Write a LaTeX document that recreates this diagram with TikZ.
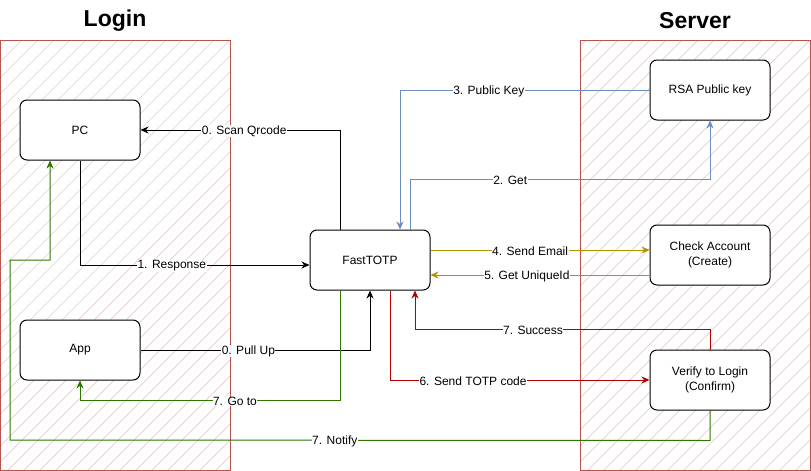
\documentclass[tikz,border=0pt]{standalone}
\usepackage{fontspec}
\setmainfont{Liberation Sans}
\usetikzlibrary{arrows.meta}
\definecolor{cborder}{HTML}{B85450}
\definecolor{hatchpink}{RGB}{250,196,194}
\definecolor{cgreen}{HTML}{2D7600}
\definecolor{cblue}{HTML}{6C8EBF}
\definecolor{colive}{HTML}{B09500}
\definecolor{cred}{HTML}{B20000}
\begin{document}
\begin{tikzpicture}[x=1pt,y=-1pt,
 box/.style={draw,fill=white,line width=1pt,rounded corners=7pt,minimum width=120pt,minimum height=60pt,align=center,font=\fontsize{12}{15}\selectfont,inner sep=0pt},
 conn/.style={line width=1pt,-{Stealth[length=8pt,width=7pt,inset=2.5pt]}},
 lbl/.style={fill=white,inner sep=0.5pt,yshift=-1pt,font=\fontsize{12}{14}\selectfont,text=black},
 titletext/.style={font=\bfseries\fontsize{23}{27}\selectfont},
 zone/.style={draw=cborder,line width=1pt},
 zonehatch/.style={color=hatchpink,line width=0.7pt}]
\useasboundingbox (0,0) rectangle (811,471);
% zones
\begin{scope}
\clip (0,40) rectangle (230,470);
\foreach \k in {-440,-424,...,240} \draw[zonehatch] (\k,470) -- ++(430,-430);
\end{scope}
\begin{scope}
\clip (580,40) rectangle (810,470);
\foreach \k in {140,156,...,820} \draw[zonehatch] (\k,470) -- ++(430,-430);
\end{scope}
\draw[zone] (0.5,40) rectangle (230,470);
\draw[zone] (580,40) rectangle (810,470);
\node[titletext] (tlogin) at (115,21) {Login};
\node[titletext] (tserver) at (695,21) {Server};
% nodes
\node[box] (pc) at (80,130) {PC};
\node[box] (app) at (80,350) {App};
\node[box] (fast) at (370,260) {FastTOTP};
\node[box] (rsa) at (710,90) {RSA Public key};
\node[box] (chk) at (710,255) {Check Account\\(Create)};
\node[box] (ver) at (710,380) {Verify to Login\\(Confirm)};
% connectors
\draw[conn] ([xshift=-30pt]fast.north) |- node[lbl,pos=0.74]{0. Scan Qrcode} (pc.east);
\draw[conn] (pc.south) |- node[lbl,pos=0.70]{1. Response} ([yshift=-5pt]fast.west);
\draw[conn] (app.east) -| node[lbl,pos=0.235]{0. Pull Up} (fast.south);
\draw[conn,cgreen] ([xshift=-30pt]fast.south) -- ++(0,110) -| node[lbl,pos=0.202]{7. Go to} (app.south);
\draw[conn,cgreen] (ver.south) -- ++(0,30) -- node[lbl,pos=0.536]{7. Notify} (10,440) -- (10,260) -| ([xshift=-30pt]pc.south);
\draw[conn,cblue] ([xshift=40pt]fast.north) -- ++(0,-50) -| node[lbl,pos=0.167]{2. Get} (rsa.south);
\draw[conn,cblue] (rsa.west) -| node[lbl,pos=0.322]{3. Public Key} ([xshift=30pt]fast.north);
\draw[conn,colive] ([yshift=10pt]fast.east) -- node[lbl,pos=0.455]{4. Send Email} ([yshift=5pt]chk.west);
\draw[conn,colive] ([yshift=-20pt]chk.west) -- node[lbl,pos=0.56]{5. Get UniqueId} ([yshift=-15pt]fast.east);
\draw[conn,cred] ([xshift=20pt]fast.south) |- node[lbl,pos=0.66]{6. Send TOTP code} (ver.west);
\draw[conn,cred] (ver.north) -- ++(0,-20) -| node[lbl,pos=0.30]{7. Success} ([xshift=45pt]fast.south);
\end{tikzpicture}
\end{document}
